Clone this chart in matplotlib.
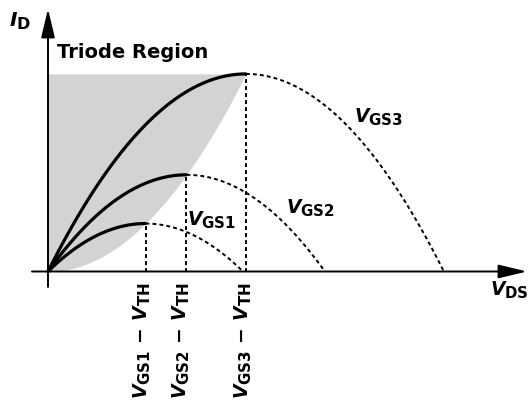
import numpy as np
import matplotlib
matplotlib.use("Agg")
import matplotlib.pyplot as plt
import matplotlib._mathtext as mathtext_internal

# overdrive voltages (V_GS - V_TH) for the three curves, arbitrary units
vov = [1.0, 1.42, 2.03]
curve_labels = [r'$V_{\mathrm{GS1}}$', r'$V_{\mathrm{GS2}}$', r'$V_{\mathrm{GS3}}$']
tick_labels = [r'$V_{\mathrm{GS1}}\,-\,V_{\mathrm{TH}}$',
               r'$V_{\mathrm{GS2}}\,-\,V_{\mathrm{TH}}$',
               r'$V_{\mathrm{GS3}}\,-\,V_{\mathrm{TH}}$']

# subscripts in the reference are only a little smaller than the main letter
mathtext_internal.SHRINK_FACTOR = 0.8

plt.rcParams['mathtext.fontset'] = 'custom'
plt.rcParams['mathtext.it'] = 'DejaVu Sans:italic:bold'
plt.rcParams['mathtext.rm'] = 'DejaVu Sans:bold'
plt.rcParams['mathtext.bf'] = 'DejaVu Sans:bold'

W, H = 531, 401
fig = plt.figure(figsize=(W / 100, H / 100), dpi=100)
ax = fig.add_axes([0, 0, 1, 1])
ax.axis('off')

# pixel calibration: origin at (48, 271.5), 97.5 px per x unit, 95.9 px per y unit
x0, y0, sx, sy = 48, 271.5, 97.5, 95.9
ax.set_xlim(-x0 / sx, (W - x0) / sx)
ax.set_ylim(-(H - y0) / sy, y0 / sy)


def fig_xy(px, py):
    return px / W, 1 - py / H


# shaded triode region
vmax = vov[-1]
v = np.linspace(0, vmax, 200)
ax.fill_between(v, v ** 2 / 2, vmax ** 2 / 2, color='#d1d3d4', lw=0, zorder=1)

dots = (0, (2.0, 1.6))
for vo in vov:
    peak = vo ** 2 / 2
    v1 = np.linspace(0, vo, 100)
    ax.plot(v1, vo * v1 - v1 ** 2 / 2, color='black', lw=2.3,
            solid_capstyle='round', zorder=4)
    v2 = np.linspace(vo, 2 * vo, 100)
    ax.plot(v2, vo * v2 - v2 ** 2 / 2, color='black', lw=1.4, ls=dots, zorder=3)
    ax.plot([vo, vo], [0, peak], color='black', lw=1.4, ls=dots, zorder=3)

# axes with arrow heads
arrow = dict(arrowstyle='-|>,head_length=1.75,head_width=0.42', mutation_scale=10,
             color='black', lw=1.4, shrinkA=0, shrinkB=0)
ax.annotate('', xy=(0, (y0 - 9) / sy), xytext=(0, -(287 - y0) / sy),
            arrowprops=arrow, zorder=5)
ax.annotate('', xy=((527 - x0) / sx, 0), xytext=(-(x0 - 32) / sx, 0),
            arrowprops=arrow, zorder=5)

fs = 13.5
fig.text(*fig_xy(9, 27), r'$I_{\mathrm{D}}$', fontsize=14.5, ha='left', va='baseline')
fig.text(*fig_xy(490, 296), r'$V_{\mathrm{DS}}$', fontsize=fs, ha='left', va='baseline')
fig.text(*fig_xy(57, 58), 'Triode Region', fontsize=14, fontweight='bold',
         ha='left', va='baseline')

for lab, (px, py) in zip(curve_labels, [(187, 226), (286, 214), (354, 123)]):
    fig.text(*fig_xy(px, py), lab, fontsize=fs, ha='left', va='baseline')

for lab, px in zip(tick_labels, [142, 181, 243]):
    fig.text(*fig_xy(px, 282), lab, fontsize=fs, rotation=90, ha='center', va='top')

fig.savefig('out.png', dpi=100)
